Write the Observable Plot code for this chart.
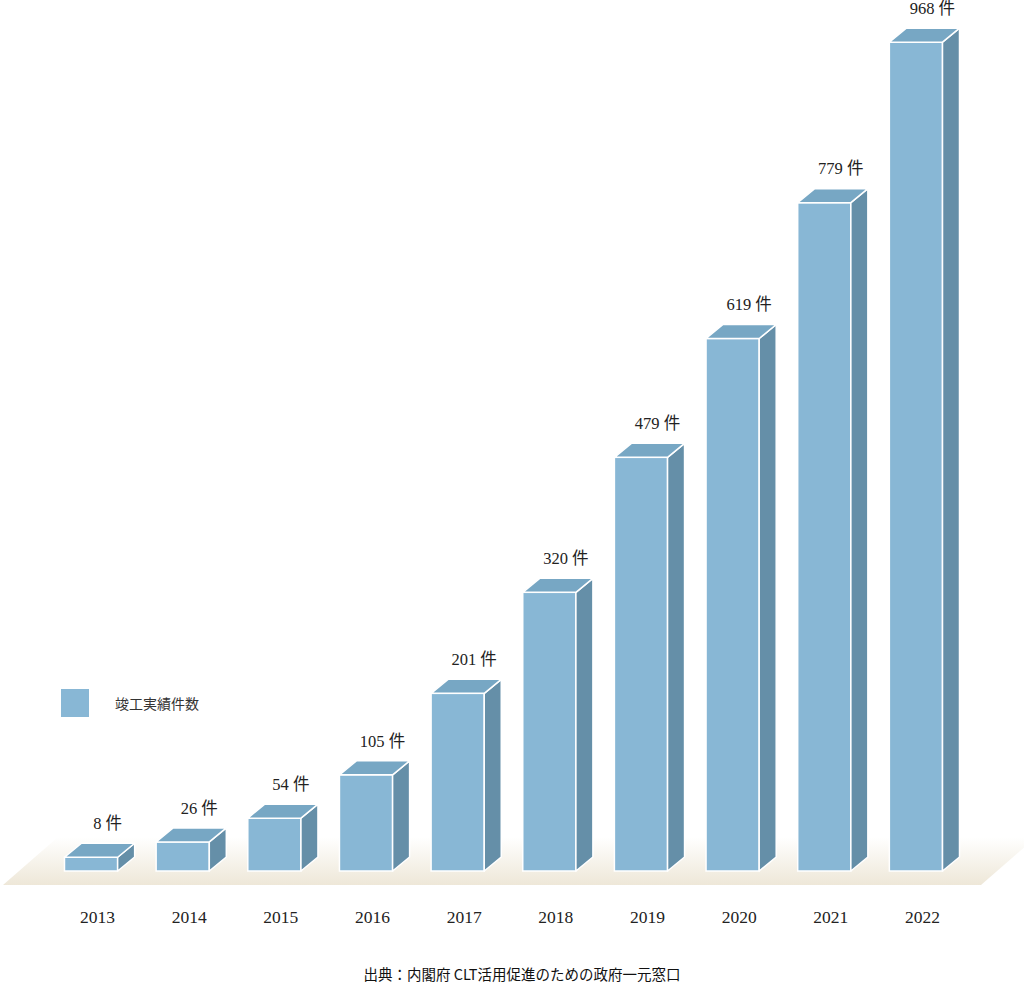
<!DOCTYPE html>
<html><head><meta charset="utf-8">
<script src="https://cdn.jsdelivr.net/npm/d3@7"></script>
<script src="https://cdn.jsdelivr.net/npm/@observablehq/plot@0.6"></script>
<style>
body{margin:0;background:#fff;}
#wrap{position:relative;width:1024px;height:999px;overflow:hidden;}
#legend{position:absolute;left:61px;top:689px;display:flex;align-items:center;font:14px 'Noto Sans CJK JP',sans-serif;color:#333;}
#legend .sw{width:28px;height:28px;background:#88b7d5;margin-right:26px;}
#caption{position:absolute;left:0;top:963px;width:1044px;text-align:center;font:400 14.5px 'Noto Sans CJK JP',sans-serif;color:#111;}
</style></head><body>
<div id="wrap"><div id="chart"></div>
<div id="legend"><div class="sw"></div><span id="legendLabel"></span></div>
<div id="caption"></div></div>
<script>
const years = ["2013","2014","2015","2016","2017","2018","2019","2020","2021","2022"];
const counts = [8, 26, 54, 105, 201, 320, 479, 619, 779, 968];
const unit = "件";
const seriesName = "竣工実績件数";
const captionText = "出典：内閣府 CLT活用促進のための政府一元窓口";

const data = years.map((year, i) => ({year, count: counts[i]}));

const FRONT = "#88b7d5", TOP = "#77a7c4", SIDE = "#658fa8";
const DX = 17, DY = 14, BASE = 7;
const serif = "'Liberation Serif','Noto Sans CJK JP',serif";

const chart = Plot.plot({
  width: 1024,
  height: 950,
  marginLeft: 26,
  marginRight: 43,
  marginTop: 15,
  marginBottom: 86,
  x: {domain: years, padding: 0.42, round: false, label: null},
  y: {domain: [0, 1000], axis: null},
  style: {fontFamily: serif, color: "#222", background: "transparent"},
  marks: [
    Plot.ruleY([0], {
      render(index, scales, values, dims) {
        const y0 = values.y[index[0]];
        const L = dims.marginLeft, R = dims.width - dims.marginRight;
        const g = d3.create("svg:g");
        const lg = g.append("defs").append("linearGradient")
          .attr("id", "floorGrad").attr("x1", 0).attr("y1", 0).attr("x2", 0).attr("y2", 1);
        lg.append("stop").attr("offset", "0").attr("stop-color", "#ffffff");
        lg.append("stop").attr("offset", "1").attr("stop-color", "#eee7d8");
        const pts = [[L - 23, y0 + 21], [R, y0 + 21], [R + 55, y0 - 27], [L + 32, y0 - 27]];
        g.append("polygon").attr("points", pts.map(p => p.join(",")).join(" ")).attr("fill", "url(#floorGrad)");
        return g.node();
      }
    }),
    Plot.barY(data, {
      x: "year", y: "count", fill: FRONT, stroke: "#fff", strokeWidth: 1.5,
      insetLeft: 0, insetRight: 0, insetBottom: -BASE,
      render(index, scales, values, dims, ctx, next) {
        const g = next(index, scales, values, dims, ctx);
        const bw = scales.x.bandwidth ? scales.x.bandwidth() : 53;
        const sel = d3.select(g);
        for (const i of index) {
          const x0 = values.x[i], x1 = x0 + bw;
          const yt = Math.min(values.y1[i], values.y2[i]);
          const yb = Math.max(values.y1[i], values.y2[i]) + BASE;
          const side = [[x1, yt], [x1 + DX, yt - DY], [x1 + DX, yb - DY], [x1, yb]];
          const top = [[x0, yt], [x1, yt], [x1 + DX, yt - DY], [x0 + DX, yt - DY]];
          sel.append("polygon").attr("points", side.map(p => p.join(",")).join(" "))
            .attr("fill", SIDE).attr("stroke", "#fff").attr("stroke-width", 1.5).attr("stroke-linejoin", "round");
          sel.append("polygon").attr("points", top.map(p => p.join(",")).join(" "))
            .attr("fill", TOP).attr("stroke", "#fff").attr("stroke-width", 1.5).attr("stroke-linejoin", "round");
        }
        return g;
      }
    }),
    Plot.text(data, {
      x: "year", y: "count", text: d => `${d.count} ${unit}`,
      dx: 16, dy: -34, fontSize: 16.5, fill: "#222", fontFamily: serif
    }),
    Plot.axisX({tickSize: 0, tickPadding: 46, dx: 6, fontSize: 17.5, label: null, fontFamily: serif, color: "#222"})
  ]
});
document.getElementById("chart").appendChild(chart);
document.getElementById("legendLabel").textContent = seriesName;
document.getElementById("caption").textContent = captionText;
</script>
</body></html>
